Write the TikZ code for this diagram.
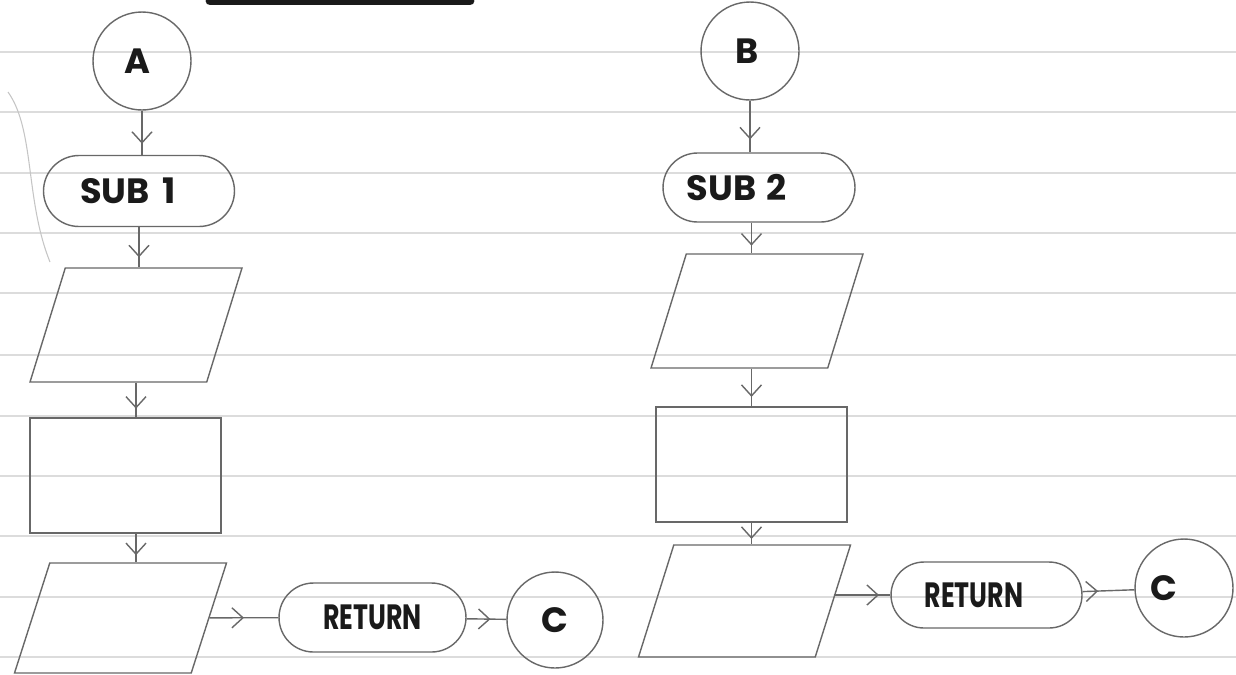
\documentclass[tikz,border=0pt]{standalone}
\usepackage{fontspec}
\setmainfont{Poppins}
\usetikzlibrary{shapes.geometric,shapes.misc,arrows.meta,decorations.markings}
\definecolor{stroke}{HTML}{686868}
\definecolor{paper}{HTML}{DCDCDC}
\definecolor{ink}{HTML}{1A1A1A}
\begin{document}
\begin{tikzpicture}[x=0.02cm,y=-0.02cm,
  shp/.style={draw=stroke, line width=0.8pt, inner sep=0pt, text=ink,
    font=\fontsize{20}{24}\selectfont\bfseries},
  circ/.style={shp, circle, minimum size=#1},
  circ/.default=1.96cm,
  term/.style={shp, rounded rectangle, minimum width=3.8cm, minimum height=1.4cm},
  io/.style={shp, inner sep=3pt, trapezium, trapezium left angle=76, trapezium right angle=104,
    trapezium stretches=true, minimum width=4.24cm, minimum height=2.28cm},
  proc/.style={shp, rectangle, minimum width=3.82cm, minimum height=2.3cm},
  flow/.style={draw=stroke, line width=0.8pt, postaction={decorate},
    decoration={markings, mark=at position #1 with {\arrow{Straight Barb[length=2.2mm,width=4mm]}}}},
  flow/.default=0.75,
  rule/.style={draw=paper, line width=0.9pt}
]
\useasboundingbox (0,0) rectangle (1236,674);
\fill[white] (0,0) rectangle (1236,674);
% ruled paper
\foreach \yy in {52,112,173,233,293,355,416,476,536,597,657}
  \draw[rule] (0,\yy) -- (1236,\yy);
\draw[draw=paper!80!stroke, line width=0.6pt] (8,92) .. controls (35,130) and (25,200) .. (50,262);
% heading underline
\draw[ink, line width=5pt, line cap=round] (210,1) -- (470,1);

% left flow
\node[circ] (A) at (142,61) {\kern-0.2cm A};
\node[term, minimum width=3.82cm, minimum height=1.42cm] (sub1) at (139,191) {SUB\kern0.25cm 1\kern0.45cm};
\node[io] (io1) at (136,325) {};
\node[proc] (proc1) at (125.5,475.5) {};
\node[io, minimum height=2.2cm] (io2) at (120.5,618) {};
\node[term, minimum width=3.74cm, minimum height=1.38cm] (ret1) at (372.5,617.5) {\scalebox{0.72}[1]{RETURN}};
\node[circ=1.92cm] (C1) at (555,620) {C};

\draw[flow] (A.south) -- (A.south |- sub1.north);
\draw[flow] (sub1.south) -- (sub1.south |- io1.north);
\draw[flow] (io1.center |- io1.south) -- (io1.center |- proc1.north);
\draw[flow] (io1.center |- proc1.south) -- (io1.center |- io2.north);
\draw[flow=0.5] (io2) -- (ret1);
\draw[flow=0.6] (ret1) -- (C1);

% right flow
\node[circ] (B) at (750,51) {\kern-0.1cm B};
\node[term, minimum width=3.84cm, minimum height=1.38cm] (sub2) at (759,187.5) {SUB\kern0.2cm 2\kern0.9cm};
\node[io] (io3) at (757,311) {};
\node[proc] (proc2) at (751.5,464.5) {};
\node[io, minimum height=2.24cm] (io4) at (744.5,601) {};
\node[term, minimum width=3.82cm, minimum height=1.32cm] (ret2) at (986.5,595) {\scalebox{0.72}[1]{RETURN}\kern0.5cm};
\node[circ] (C2) at (1184,588) {\kern-0.8cm C};

\draw[flow] (B.south) -- (B.south |- sub2.north);
\draw[flow] (proc2.center |- sub2.south) -- (proc2.center |- io3.north);
\draw[flow] (proc2.north |- io3.south) -- (proc2.north);
\draw[flow] (proc2.south) -- (proc2.south |- io4.north);
\draw[flow=0.8] (ret2.west -| io4.east) -- (ret2.west);
\draw[flow=0.3] (ret2) -- (C2);
\end{tikzpicture}
\end{document}
